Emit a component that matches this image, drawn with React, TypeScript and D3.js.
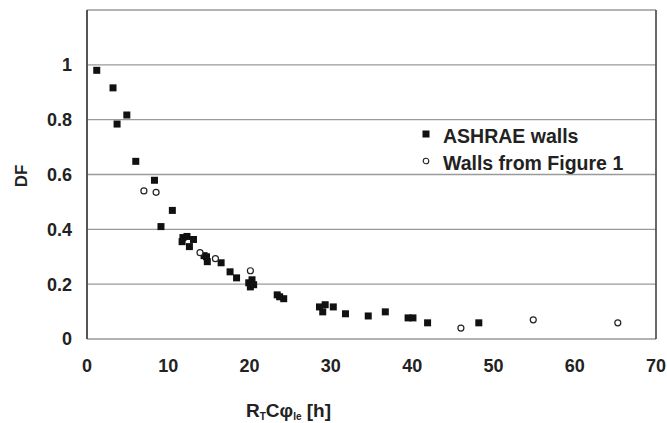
import React from 'react';
import * as d3 from 'd3';

// ASHRAE walls (filled squares): [RtCφ, DF]
const ashraeX = [1.2, 3.2, 3.7, 4.9, 6.0, 8.3, 10.5, 9.1, 11.8, 12.3, 11.7, 12.6, 13.1, 14.4, 14.7, 14.8, 16.5, 17.6, 18.4, 19.9, 20.1, 20.3, 20.5, 23.4, 23.7, 24.2, 28.6, 29.0, 29.3, 30.3, 31.8, 34.6, 36.7, 39.5, 40.1, 41.9, 48.2];
const ashraeY = [0.98, 0.916, 0.784, 0.817, 0.648, 0.579, 0.469, 0.41, 0.37, 0.374, 0.355, 0.337, 0.363, 0.304, 0.3, 0.282, 0.278, 0.245, 0.223, 0.205, 0.19, 0.216, 0.198, 0.161, 0.154, 0.147, 0.117, 0.099, 0.125, 0.117, 0.092, 0.084, 0.099, 0.077, 0.077, 0.059, 0.059];

// Walls from Figure 1 (open circles)
const figX = [7.0, 8.5, 13.9, 15.8, 20.1, 46.0, 54.9, 65.3];
const figY = [0.54, 0.535, 0.315, 0.293, 0.249, 0.04, 0.07, 0.059];

const xTicks = [0, 10, 20, 30, 40, 50, 60, 70];
const yTicks = [0, 0.2, 0.4, 0.6, 0.8, 1];
const gridValues = [0.2, 0.4, 0.6, 0.8, 1, 1.2];

const legendLabels = ['ASHRAE walls', 'Walls from Figure 1'];

const W = 667;
const H = 423;

const App: React.FC = () => {
  const svgRef = React.useRef<SVGSVGElement>(null);

  React.useEffect(() => {
    if (!svgRef.current) return;
    const svg = d3.select(svgRef.current);
    svg.selectAll('*').remove();

    const margin = { top: 10, right: 11, bottom: 84, left: 87 };
    const innerW = W - margin.left - margin.right;
    const innerH = H - margin.top - margin.bottom;

    const x = d3.scaleLinear().domain([0, 70]).range([0, innerW]);
    const y = d3.scaleLinear().domain([0, 1.2]).range([innerH, 0]);

    svg.append('rect').attr('width', W).attr('height', H).attr('fill', '#fff');

    const g = svg.append('g').attr('transform', `translate(${margin.left},${margin.top})`);
    const font = 'Liberation Sans, Arial, sans-serif';

    // gridlines
    g.selectAll('.grid')
      .data(gridValues)
      .enter().append('line')
      .attr('x1', 0)
      .attr('x2', innerW)
      .attr('y1', d => y(d))
      .attr('y2', d => y(d))
      .attr('stroke', '#9a9a9a')
      .attr('stroke-width', 1.3);

    // frame
    g.append('line').attr('x1', 0).attr('x2', innerW).attr('y1', innerH).attr('y2', innerH)
      .attr('stroke', '#999').attr('stroke-width', 1.5);
    g.append('line').attr('x1', 0).attr('x2', 0).attr('y1', 0).attr('y2', innerH)
      .attr('stroke', '#555').attr('stroke-width', 2);
    g.append('line').attr('x1', innerW).attr('x2', innerW).attr('y1', 0).attr('y2', innerH)
      .attr('stroke', '#444').attr('stroke-width', 1.6);

    // y tick labels
    g.selectAll('.ylab')
      .data(yTicks)
      .enter().append('text')
      .attr('x', -15)
      .attr('y', d => y(d))
      .attr('dy', '0.36em')
      .attr('text-anchor', 'end')
      .attr('font-family', font)
      .attr('font-weight', 'bold')
      .attr('font-size', 18)
      .attr('fill', '#222')
      .text(d => d3.format('~g')(d));

    // x tick labels
    g.selectAll('.xlab')
      .data(xTicks)
      .enter().append('text')
      .attr('x', d => x(d))
      .attr('y', innerH + 33)
      .attr('text-anchor', 'middle')
      .attr('font-family', font)
      .attr('font-weight', 'bold')
      .attr('font-size', 18)
      .attr('fill', '#222')
      .text(d => d);

    // ASHRAE squares
    const s = 7;
    g.selectAll('.sq')
      .data(ashraeX.map((v, i) => [v, ashraeY[i]]))
      .enter().append('rect')
      .attr('x', d => x(d[0]) - s / 2)
      .attr('y', d => y(d[1]) - s / 2)
      .attr('width', s)
      .attr('height', s)
      .attr('fill', '#111');

    // Figure 1 circles
    g.selectAll('.ci')
      .data(figX.map((v, i) => [v, figY[i]]))
      .enter().append('circle')
      .attr('cx', d => x(d[0]))
      .attr('cy', d => y(d[1]))
      .attr('r', 3)
      .attr('fill', '#fff')
      .attr('stroke', '#222')
      .attr('stroke-width', 1.2);

    // legend
    const lg = svg.append('g').attr('transform', 'translate(426,134)');
    lg.append('rect').attr('x', -3.5).attr('y', -3.5).attr('width', 7).attr('height', 7).attr('fill', '#111');
    lg.append('circle').attr('cx', 0).attr('cy', 27).attr('r', 2.8)
      .attr('fill', '#fff').attr('stroke', '#222').attr('stroke-width', 1.1);
    legendLabels.forEach((t, i) => {
      lg.append('text')
        .attr('x', 17)
        .attr('y', i * 27 + 2)
        .attr('dy', '0.36em')
        .attr('font-family', font)
        .attr('font-weight', 'bold')
        .attr('font-size', 19.5)
        .attr('fill', '#222')
        .text(t);
    });

    // y axis title
    svg.append('text')
      .attr('transform', 'translate(27,176) rotate(-90)')
      .attr('text-anchor', 'middle')
      .attr('font-family', font)
      .attr('font-weight', 'bold')
      .attr('font-size', 17)
      .attr('fill', '#222')
      .text('DF');

    // x axis title
    const xt = svg.append('text')
      .attr('x', 246)
      .attr('y', 417)
      .attr('font-family', font)
      .attr('font-weight', 'bold')
      .attr('font-size', 19)
      .attr('fill', '#222');
    xt.append('tspan').text('R');
    xt.append('tspan').attr('font-size', 10).attr('dy', 3).text('T');
    xt.append('tspan').attr('dy', -3).text('Cφ');
    xt.append('tspan').attr('font-size', 10).attr('dy', 3).text('Ie');
    xt.append('tspan').attr('dy', -3).text(' [h]');
  }, []);

  return (
    <svg
      ref={svgRef}
      width={W}
      height={H}
      style={{ position: 'absolute', left: 0, top: 0, display: 'block' }}
    />
  );
};

export default App;
